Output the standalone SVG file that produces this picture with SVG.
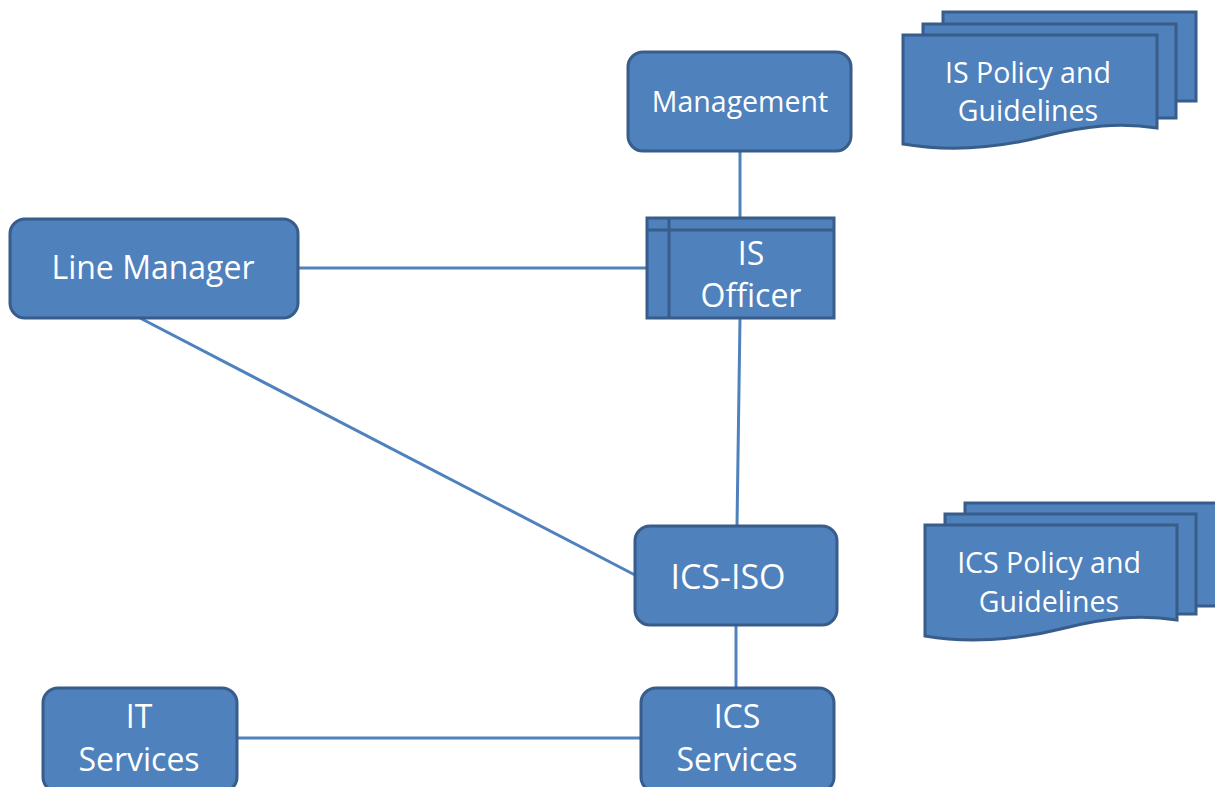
<svg xmlns="http://www.w3.org/2000/svg" width="1215" height="787" viewBox="0 0 1215 787">
  <style>
    .box { fill: #4F81BD; stroke: #385D8A; stroke-width: 3; }
    .inner { fill: none; stroke: #385D8A; stroke-width: 3; }
    .link { stroke: #4F81BD; stroke-width: 3; fill: none; }
    .label { fill: #FFFFFF; font-family: "Open Sans", "Liberation Sans", sans-serif; font-size: 32px; text-anchor: middle; }
    .small { font-size: 28.5px; }
    .large { font-size: 34px; }
  </style>
  <rect width="1215" height="787" fill="#FFFFFF"/>

  <!-- connectors -->
  <g id="connectors">
    <line class="link" x1="740" y1="151" x2="740" y2="218"/>
    <line class="link" x1="298" y1="268" x2="647" y2="268"/>
    <line class="link" x1="740" y1="318" x2="737" y2="526"/>
    <line class="link" x1="140" y1="318" x2="635" y2="575"/>
    <line class="link" x1="736" y1="625" x2="736" y2="688"/>
    <line class="link" x1="237" y1="738" x2="641" y2="738"/>
  </g>

  <g id="management">
    <rect class="box" x="628" y="52" width="223" height="99" rx="15"/>
    <text class="label small" x="740" y="112">Management</text>
  </g>

  <g id="is-policy">
    <rect class="box" x="943" y="12" width="253" height="89"/>
    <rect class="box" x="923" y="24" width="253" height="94"/>
    <path class="box" d="M903,35 H1157 V128 C1120,122 1085,126 1045,136 C995,149 945,151 903,144 Z"/>
    <text class="label small" x="1028" y="83">IS Policy and</text>
    <text class="label small" x="1028" y="121">Guidelines</text>
  </g>

  <g id="line-manager">
    <rect class="box" x="10" y="219" width="288" height="99" rx="15"/>
    <text class="label" x="153" y="279">Line Manager</text>
  </g>

  <g id="is-officer">
    <rect class="box" x="647" y="218" width="187" height="100"/>
    <line class="inner" x1="669" y1="218" x2="669" y2="318"/>
    <line class="inner" x1="647" y1="230" x2="834" y2="230"/>
    <text class="label" x="751" y="265">IS</text>
    <text class="label" x="751" y="307">Officer</text>
  </g>

  <g id="ics-iso">
    <rect class="box" x="635" y="526" width="202" height="99" rx="15"/>
    <text class="label large" x="728" y="589">ICS-ISO</text>
  </g>

  <g id="ics-policy">
    <rect class="box" x="965" y="503" width="262" height="103"/>
    <rect class="box" x="945" y="514" width="251" height="100"/>
    <path class="box" d="M925,525 H1177 V620 C1140,614 1105,618 1065,628 C1015,641 965,643 925,636 Z"/>
    <text class="label small" x="1049" y="573">ICS Policy and</text>
    <text class="label small" x="1049" y="612">Guidelines</text>
  </g>

  <g id="it-services">
    <rect class="box" x="43" y="688" width="194" height="104" rx="15"/>
    <text class="label" x="139" y="728">IT</text>
    <text class="label" x="139" y="771">Services</text>
  </g>

  <g id="ics-services">
    <rect class="box" x="641" y="688" width="193" height="104" rx="15"/>
    <text class="label" x="737" y="728">ICS</text>
    <text class="label" x="737" y="771">Services</text>
  </g>
</svg>
